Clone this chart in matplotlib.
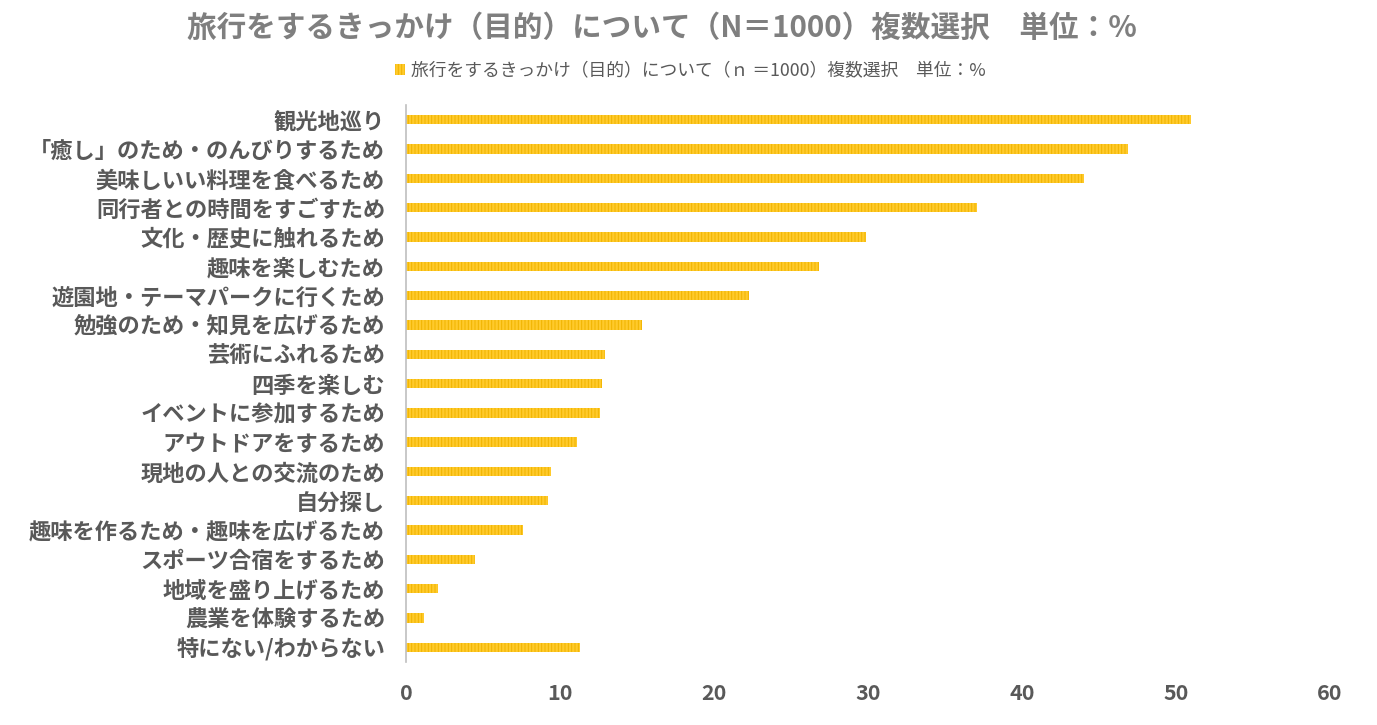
import matplotlib
matplotlib.use('Agg')
import matplotlib.pyplot as plt
from matplotlib.patches import Patch

plt.rcParams['font.family'] = ['Noto Sans CJK JP', 'DejaVu Sans']
plt.rcParams['hatch.linewidth'] = 0.7

# Data
categories = [
    '観光地巡り',
    '「癒し」のため・のんびりするため',
    '美味しいい料理を食べるため',
    '同行者との時間をすごすため',
    '文化・歴史に触れるため',
    '趣味を楽しむため',
    '遊園地・テーマパークに行くため',
    '勉強のため・知見を広げるため',
    '芸術にふれるため',
    '四季を楽しむ',
    'イベントに参加するため',
    'アウトドアをするため',
    '現地の人との交流のため',
    '自分探し',
    '趣味を作るため・趣味を広げるため',
    'スポーツ合宿をするため',
    '地域を盛り上げるため',
    '農業を体験するため',
    '特にない/わからない',
]
values = [51.0, 46.9, 44.0, 37.1, 29.9, 26.8, 22.3, 15.3, 12.9, 12.7,
          12.6, 11.1, 9.4, 9.2, 7.6, 4.5, 2.1, 1.2, 11.3]
xticks = [0, 10, 20, 30, 40, 50, 60]

title = '旅行をするきっかけ（目的）について（N＝1000）複数選択　単位：%'
series_name = '旅行をするきっかけ（目的）について（ｎ ＝1000）複数選択　単位：%'

fig = plt.figure(figsize=(13.77, 7.25), dpi=100)
ax = fig.add_axes([0.2948, 0.087, 0.6711, 0.768])

pos = list(range(len(categories)))
ax.barh(pos, values, height=0.32, color='#FFCA2C', edgecolor='#F0B400',
        linewidth=0, hatch='|||||')
ax.set_ylim(len(categories) - 0.5, -0.5)
ax.set_xlim(0, 60)
ax.set_yticks(pos)
ax.set_yticklabels(categories, fontsize=16, fontweight='bold', color='#595959')
ax.set_xticks(xticks)
ax.set_xticklabels([str(t) for t in xticks], fontsize=15.5, fontweight='bold', color='#595959')
ax.tick_params(axis='both', length=0)
ax.tick_params(axis='y', pad=15)
ax.tick_params(axis='x', pad=15)

for s in ['top', 'right', 'bottom']:
    ax.spines[s].set_visible(False)
ax.spines['left'].set_color('#BFBFBF')
ax.spines['left'].set_linewidth(1.2)

fig.text(0.481, 0.962, title, ha='center', va='center', fontsize=21.3,
         fontweight='bold', color='#7F7F7F')

handle = Patch(facecolor='#FFCA2C', edgecolor='#F0B400', linewidth=0, hatch='|||||')
fig.legend([handle], [series_name], loc='center', bbox_to_anchor=(0.501, 0.902),
           frameon=False, fontsize=12.8, labelcolor='#595959',
           handlelength=0.6, handleheight=0.6, handletextpad=0.3)

fig.savefig('out.png', dpi=100)
